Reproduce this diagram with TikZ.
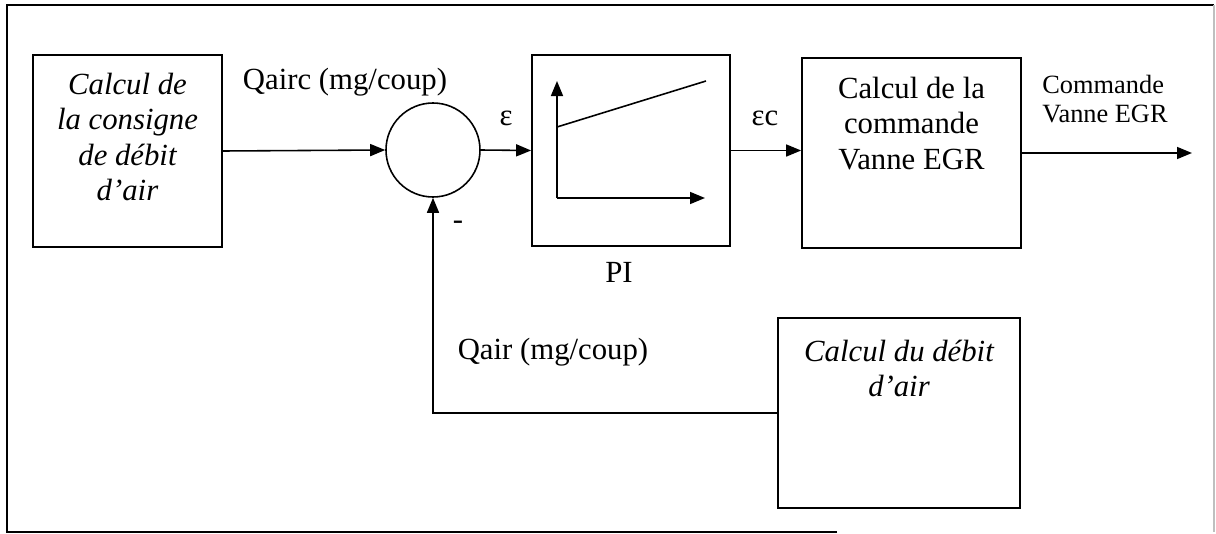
\documentclass[tikz,border=0pt]{standalone}
\usepackage{fontspec}
\setmainfont{Liberation Serif}
\usetikzlibrary{arrows.meta,positioning,calc}

\begin{document}
\begin{tikzpicture}[
  bloc/.style={draw, line width=1pt, inner sep=0pt},
  txt/.style={font=\fontsize{17.5}{20}\selectfont, align=center, inner sep=0pt},
  itxt/.style={font=\fontsize{17.5}{20}\selectfont\itshape, align=center, inner sep=0pt},
  fl/.style={line width=0.9pt, -{Triangle[length=0.3cm,width=0.24cm]}}
]
  \useasboundingbox (0,0) rectangle (24.32,-10.68);
  \draw[line width=0.8pt] (16.74,-10.64) -| (0.14,-0.1) -- (24.28,-0.1);
  \draw[gray!50, line width=0.6pt] (24.28,-0.1) -- (24.28,-10.64);

  \node[bloc, minimum width=3.78cm, minimum height=3.84cm] (consigne) at (2.55,-3.02) {};
  \node[circle, draw, line width=0.9pt, minimum size=1.88cm, inner sep=0pt] (somme) at (8.66,-3.0) {};
  \node[bloc, minimum width=3.96cm, minimum height=3.82cm] (pi) at (12.62,-3.01) {};
  \node[bloc, minimum width=4.38cm, minimum height=3.8cm] (commande) at (18.23,-3.06) {};
  \node[bloc, minimum width=4.84cm, minimum height=3.8cm] (debit) at (17.98,-8.26) {};
  \coordinate (sortie) at (23.84,-3.06);

  \node[itxt, anchor=north, yshift=-0.38cm] (consigneT) at (consigne.north) {Calcul de\\la consigne\\de débit\\d’air};
  \node[txt, anchor=north, yshift=-0.4cm] (commandeT) at (commande.north) {Calcul de la\\commande\\Vanne EGR};
  \node[itxt, anchor=north, yshift=-0.46cm] (debitT) at (debit.north) {Calcul du débit\\d’air};

  \node[txt] (qairc) at (6.9,-1.64) {Qairc (mg/coup)};
  \node[txt] (eps) at (10.12,-2.36) {ε};
  \node[txt] (epsc) at (15.3,-2.36) {εc};
  \node[txt] (moins) at (9.16,-4.5) {-};
  \node[txt] (pilbl) at (12.38,-5.44) {PI};
  \node[txt] (qair) at (11.06,-7.04) {Qair (mg/coup)};
  \node[font=\fontsize{15}{16}\selectfont, align=left, inner sep=0pt] (cmdlbl) at (22.1,-1.98) {Commande\\Vanne EGR};

  \draw[fl] (consigne.east) -- (somme.west);
  \draw[fl] (somme.east) -- (pi.west);
  \draw[fl] (pi.east) -- (pi.east -| commande.west);
  \draw[fl] (commande.east) -- (sortie);
  \draw[fl] (debit.west) -| (somme.south);

  \coordinate (o) at ($(pi.center)+(-1.48,-0.95)$);
  \draw[fl] (o) -- ++(0,2.34);
  \draw[fl] (o) -- ++(2.96,0);
  \draw[line width=0.9pt] ($(o)+(0,1.42)$) -- ($(o)+(2.98,2.34)$);
\end{tikzpicture}
\end{document}
